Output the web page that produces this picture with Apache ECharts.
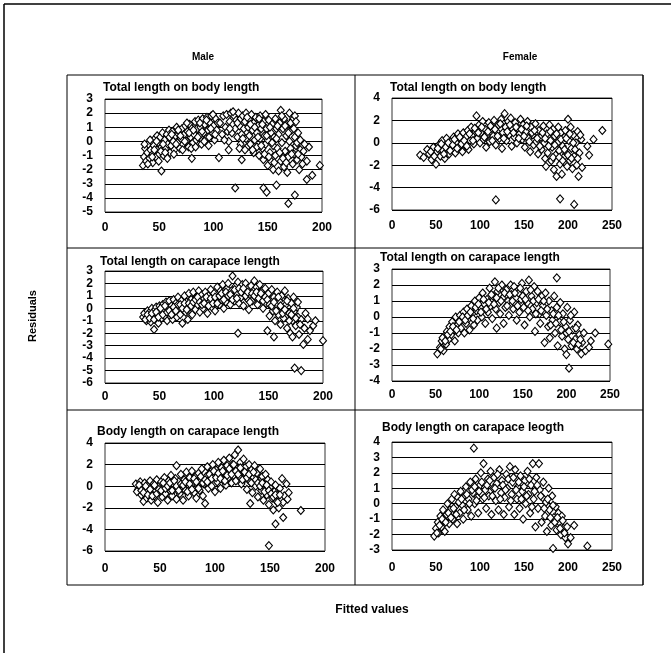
<!DOCTYPE html>
<html>
<head>
<meta charset="utf-8">
<script src="https://cdn.jsdelivr.net/npm/echarts@6/dist/echarts.min.js"></script>
<style>
  html, body { margin: 0; padding: 0; background: #fff; }
  #chart { width: 671px; height: 653px; }
</style>
</head>
<body>
<div id="chart"></div>
<script>
  // residuals vs fitted values, [fitted, residual]
  const maleTotalBody = [
    [35,-1.7],[36,-1.1],[37,-0.5],[38,-1.4],[39,-0.8],[40,-0.2],[41,-1.2],[42,-0.6],[43,0.0],[44,-1.5],[44,-0.9],[45,-0.3],
    [46,0.2],[47,-1.1],[48,-0.6],[48,0.4],[49,-0.1],[50,-0.9],[51,0.3],[52,-0.4],[53,0.6],[54,-1.0],[55,0.1],[56,-0.5],
    [57,0.5],[58,-0.2],[59,0.8],[60,-0.8],[60,0.2],[61,-0.3],[62,0.7],[63,0.0],[64,-0.6],[65,0.4],[66,1.0],[67,-0.1],
    [68,0.5],[69,-0.5],[70,0.2],[71,0.9],[72,-0.2],[73,0.5],[74,1.1],[75,0.0],[76,0.7],[77,-0.4],[78,1.2],[79,0.3],
    [80,0.9],[81,-0.1],[82,0.5],[83,1.4],[84,0.1],[85,0.9],[86,1.5],[87,0.4],[88,1.0],[89,-0.2],[90,1.6],[91,0.6],
    [92,1.2],[93,0.2],[94,1.7],[95,0.8],[96,0.3],[97,1.3],[98,1.8],[99,0.6],[100,1.1],[101,0.1],[102,1.6],[103,0.8],
    [36.5,-0.2],[39.5,-1.6],[41.5,0.1],[43.5,-1.1],[45.5,-0.6],[47.5,0.0],[49.5,-1.4],[51.5,-0.7],[53.5,-0.2],[55.5,-0.8],
    [57.5,-1.2],[59.5,0.3],[61.5,0.5],[63.5,-0.9],[65.5,-0.2],[67.5,0.8],[69.5,0.4],[71.5,-0.6],[73.5,0.0],[75.5,1.3],
    [77.5,0.6],[79.5,-0.5],[81.5,0.8],[83.5,-0.4],[85.5,0.3],[87.5,1.3],[89.5,0.7],[91.5,0.0],[93.5,1.5],[95.5,-0.3],
    [97.5,0.9],[99.5,1.9],[101.5,0.5],[104,1.3],
    [52,-2.1],[80,-1.2],[105,-1.15],
    [106,1.3],[108,0.5],[109,1.8],[111,1.0],[112,1.9],[113,0.7],[114,0.0],[114,-0.6],[115,1.4],[116,2.0],[117,0.6],
    [118,1.2],[119,1.8],[120,0.9],[121,1.5],[122,0.3],[123,2.0],[124,1.1],[125,1.6],[125,-0.2],[126,0.5],[126,-1.3],
    [127,1.8],[128,0.9],[129,1.4],[130,0.2],[130,2.0],[131,-0.4],[132,1.0],[133,1.6],[133,0.4],[134,-0.2],[135,1.9],
    [136,0.8],[137,1.3],[137,-0.8],[138,0.1],[139,1.7],[140,0.6],[140,-0.4],[141,1.1],[142,-1.0],[143,1.8],[143,0.2],
    [144,0.9],[145,-0.5],[146,1.4],[146,-1.3],[147,0.4],[148,1.9],[148,-0.2],[149,0.9],[150,-1.7],[150,0.1],[151,1.5],
    [152,-0.8],[153,0.6],[153,-1.4],[154,1.2],[155,-0.3],[155,-2.0],[156,0.3],[157,1.6],[157,-1.0],[158,0.9],[159,-0.5],
    [160,-2.1],[160,0.5],[161,1.3],[162,2.2],[162,-1.4],[163,-0.1],[164,0.9],[165,1.6],[165,-1.8],[166,-0.7],[167,0.4],
    [168,1.2],[168,-2.2],[169,-1.1],[170,2.0],[170,0.0],[171,-0.5],[172,0.8],[173,1.55],[173,-1.6],[174,-0.9],[175,1.8],
    [175,0.3],[176,-0.3],[177,-1.3],[178,0.6],[179,-2.0],[180,-0.6],[181,-1.1],[183,-0.7],[186,-1.4],[188,-0.4],
    [110,0.1],[115,0.9],[118,2.1],[122,1.3],[124,-0.5],[127,0.2],[129,-0.6],[131,1.7],[134,1.2],[136,-0.6],[138,1.0],
    [141,0.3],[142,1.6],[144,-0.3],[145,1.2],[147,-0.9],[149,0.4],[151,-1.1],[152,1.0],[154,-0.1],[156,-1.5],[158,0.2],
    [159,1.1],[161,-0.8],[163,1.8],[164,-1.2],[166,1.1],[167,-1.5],[169,0.6],[171,1.3],[172,-0.9],[174,0.9],[176,1.4],
    [177,-0.1],[178,-0.9],[180,0.1],[182,-1.6],[184,-0.2],
    [120,-3.3],[146,-3.3],[149,-3.6],[158,-3.1],[169,-4.4],[175,-3.8],[186,-2.7],[191,-2.4],[198,-1.7]
  ];
  const femaleTotalBody = [
    [32,-1.1],[36,-1.3],[40,-0.6],[42,-1.0],[45,-1.5],[47,-0.4],[50,-1.9],[50,-0.9],[53,-0.2],[55,-1.2],[57,0.2],[58,-0.7],
    [60,-1.4],[62,0.4],[63,-0.3],[65,-1.0],[67,0.1],[68,-0.6],[70,0.5],[72,-0.9],[73,0.0],[75,0.8],[76,-0.4],[78,0.3],
    [80,-0.8],[81,0.9],[83,-0.2],[84,0.5],[86,1.1],[87,-0.6],[89,0.2],[90,1.4],[91,0.7],[93,-0.1],[95,1.0],[96,2.4],
    [97,0.4],[99,1.6],[100,0.0],[101,0.9],[103,1.9],[104,0.3],[106,1.2],[107,-0.4],[108,0.7],[110,1.8],[111,0.1],[113,1.3],
    [115,0.6],[116,2.0],[118,-0.2],[119,1.0],[121,1.6],[122,0.4],[124,2.1],[125,-0.5],[126,0.9],[128,2.6],[129,1.4],[130,0.2],
    [132,1.9],[133,0.7],[135,2.2],[136,-0.3],[137,1.2],[139,0.5],[140,1.8],[142,0.0],[143,1.3],[145,0.8],[146,2.1],[148,0.3],
    [149,1.6],[151,-0.4],[152,1.0],[154,1.9],[155,0.4],[157,-0.8],[158,1.4],[160,0.7],[161,-0.2],[163,1.7],[164,0.1],[166,-1.0],
    [167,1.1],[169,0.5],[170,-0.6],[172,1.5],[173,0.0],[174,-1.4],[175,-2.1],[176,0.8],[177,-0.9],[179,1.6],[180,0.2],[181,-1.6],
    [182,-0.4],[183,1.2],[184,-2.4],[185,0.6],[186,-1.1],[187,-3.0],[188,0.0],[189,1.4],[190,-0.7],[191,-1.9],[192,0.9],[193,-2.8],
    [194,-0.3],[195,-1.3],[196,0.5],[197,1.1],[198,-0.9],[199,-2.1],[200,2.1],[201,0.2],[202,-1.6],[203,1.4],[204,-0.5],[205,-2.3],
    [206,0.7],[207,-1.2],[209,0.0],[210,-2.0],[211,1.0],[212,-3.0],[213,-0.9],[215,0.3],[216,-2.2],
    [44,-0.8],[48,-1.2],[52,-0.5],[56,-0.1],[59,-1.0],[61,-0.4],[64,0.0],[66,-0.7],[69,-0.2],[71,0.3],[74,-0.5],[77,0.5],
    [79,-0.1],[82,0.2],[85,-0.3],[88,0.8],[92,0.2],[94,1.3],[98,0.9],[102,1.4],[105,0.5],[109,1.0],[112,1.5],[114,0.2],
    [117,1.2],[120,0.6],[123,1.7],[127,0.4],[131,1.0],[134,1.6],[138,0.9],[141,1.4],[144,0.4],[147,1.2],[150,0.6],[153,1.5],
    [156,0.1],[159,0.9],[162,1.1],[165,0.4],[168,-0.3],[171,0.9],[174,0.4],[178,-0.3],[180,1.0],[183,-1.3],[185,-0.2],
    [187,0.8],[190,-1.3],[192,0.3],[194,-1.6],[196,-0.6],[198,0.4],[200,-1.1],[202,0.8],[204,-1.4],[206,0.0],[208,-0.6],
    [211,-1.4],[214,0.7],
    [118,-5.1],[191,-5.0],[207,-5.5],[222,-0.3],[224,-1.1],[229,0.3],[239,1.1]
  ];
  const maleTotalCarapace = [
    [35,-0.7],[36,-0.4],[38,-1.0],[39,-0.2],[40,-0.7],[41,-0.3],[42,-1.1],[43,0.0],[44,-0.6],[45,-1.7],[45,-0.2],[46,-0.9],
    [47,0.1],[48,-0.5],[49,-1.2],[50,0.2],[51,-0.3],[52,-0.8],[53,0.3],[54,-0.1],[55,-0.6],[56,0.5],[57,-1.0],[58,0.0],
    [59,0.6],[60,-0.4],[61,0.2],[62,-0.9],[63,0.7],[64,-0.2],[65,0.4],[66,-0.7],[67,0.9],[68,0.0],[69,-0.5],[70,0.6],
    [71,-1.2],[72,0.2],[73,1.0],[74,-0.3],[75,0.5],[76,-0.9],[77,1.2],[78,0.1],[79,0.7],[80,-0.5],[81,1.3],[82,0.4],
    [83,-0.1],[84,0.9],[85,0.3],[86,1.4],[87,-0.3],[88,0.6],[89,1.1],[90,0.0],[91,0.8],[92,1.3],[93,0.3],[94,-0.4],
    [95,1.0],[96,0.5],[97,1.5],[98,0.1],[99,0.8],[100,1.2],[101,-0.2],[102,0.6],[103,1.7],[104,0.9],[105,0.3],[106,1.4],
    [107,0.7],[108,1.9],[109,0.0],[110,1.1],[111,0.5],[112,1.6],[113,2.0],[114,0.9],[115,0.3],[116,1.4],[117,2.6],[118,1.0],
    [119,0.6],[120,1.8],[121,1.2],[122,2.1],[123,0.4],[124,1.5],[125,0.9],[126,1.9],[127,0.2],[128,1.3],[129,2.0],[130,0.8],
    [131,1.6],[132,-0.1],[133,1.1],[134,1.8],[135,0.6],[136,1.4],[137,2.2],[138,0.9],[139,1.7],[140,0.3],[141,1.2],[142,1.9],
    [143,0.7],[144,1.4],[145,0.0],[146,1.0],[147,1.6],[148,0.4],[149,-1.8],[150,1.2],[151,-0.6],[152,0.7],[153,1.5],[154,-0.2],
    [155,-2.3],[155,0.9],[156,-1.0],[157,0.3],[158,1.3],[159,-0.5],[160,0.6],[161,-1.3],[162,1.0],[163,0.0],[164,-0.8],[165,1.4],
    [166,0.3],[167,-1.6],[168,0.8],[169,-0.4],[170,-2.0],[171,0.4],[172,-2.3],[172,-1.0],[173,0.9],[174,-0.2],[175,-1.4],[176,0.1],
    [177,-0.7],[178,-2.1],[180,-0.9],[182,-2.9],[183,-1.6],[184,-0.4],[186,-2.5],[186,-0.85],[188,-1.8],[191,-1.4],[193,-1.0],
    [37,-0.9],[39,-0.5],[41,-0.8],[43,-0.4],[45,-0.9],[47,-0.3],[49,-0.7],[51,0.0],[53,-0.5],[55,0.2],[57,-0.3],[59,-0.2],
    [61,-0.5],[63,0.1],[65,-0.2],[67,0.3],[69,0.3],[71,0.0],[73,0.4],[75,-0.1],[77,0.4],[79,0.2],[81,0.5],[83,0.7],
    [85,0.9],[87,0.5],[89,0.3],[91,0.4],[93,0.9],[95,0.2],[97,0.8],[99,0.4],[101,0.9],[103,0.4],[105,1.0],[107,1.2],
    [109,0.7],[111,1.3],[113,1.0],[115,1.1],[117,0.7],[119,1.5],[121,0.8],[123,1.6],[125,1.3],[127,1.6],[129,1.0],[131,1.3],
    [133,0.5],[135,1.2],[137,1.0],[139,1.3],[141,0.8],[143,1.2],[145,0.6],[147,0.9],[149,0.7],[151,0.3],[153,0.2],[155,0.5],
    [157,-0.2],[159,0.9],[161,0.2],[163,-0.4],[165,-0.1],[167,0.6],[169,-1.0],[171,-0.5],[173,0.0],[175,-0.8],[177,0.5],[179,-1.3],
    [122,-2.0],[174,-4.8],[180,-5.0],[200,-2.6]
  ];
  const femaleTotalCarapace = [
    [52,-2.3],[55,-1.9],[57,-1.5],[59,-2.1],[60,-1.2],[62,-1.7],[63,-0.9],[65,-1.4],[66,-0.6],[68,-1.1],[69,-0.3],[71,-0.8],
    [72,-1.5],[73,0.0],[75,-0.5],[76,-1.0],[78,0.1],[79,-0.7],[80,-0.2],[82,0.3],[83,-1.0],[85,-0.4],[86,0.5],[88,-0.1],
    [89,-0.8],[91,0.7],[92,0.2],[94,-0.5],[95,1.0],[97,0.4],[98,-0.2],[100,1.2],[101,0.6],[103,0.0],[104,1.5],[106,0.8],
    [107,-0.4],[109,1.1],[110,0.3],[112,1.8],[113,0.7],[115,-0.1],[116,1.3],[118,2.2],[119,0.5],[120,-0.7],[121,1.6],[123,0.9],
    [124,0.2],[126,2.0],[127,1.2],[128,-0.4],[130,0.6],[131,1.7],[133,1.0],[134,0.1],[136,2.0],[137,1.4],[139,0.5],[140,1.9],
    [142,0.8],[143,-0.2],[145,1.5],[146,0.3],[148,1.1],[149,2.1],[151,0.6],[152,-0.5],[154,1.6],[155,0.9],[157,2.3],[158,0.0],
    [160,1.3],[161,0.5],[163,1.9],[164,-0.9],[166,0.9],[167,1.6],[169,0.2],[170,-0.4],[172,1.3],[173,0.7],[175,-1.6],[176,1.5],
    [177,0.1],[179,-0.6],[180,1.0],[181,-1.3],[183,0.4],[184,-0.2],[186,1.3],[187,-1.0],[189,2.45],[189,0.6],[190,-1.8],[192,-0.3],
    [193,0.9],[195,-1.2],[196,0.2],[198,-2.0],[199,-0.6],[200,-2.35],[201,0.6],[202,-1.4],[203,-3.2],[204,-0.2],[206,-1.8],[207,-0.8],
    [209,0.3],[210,-1.4],[212,-2.0],[213,-0.5],[215,-1.1],[217,-2.3],[218,-1.6],[220,-1.0],[222,-2.1],[226,-1.9],[228,-1.5],
    [56,-2.0],[58,-1.3],[61,-1.5],[64,-1.1],[67,-0.9],[70,-0.6],[74,-0.8],[77,-0.3],[81,0.0],[84,-0.2],[87,0.1],[90,0.3],
    [93,-0.1],[96,0.6],[99,0.8],[102,0.3],[105,1.1],[108,0.5],[111,0.9],[114,1.4],[117,0.8],[120,1.2],[122,1.8],[125,1.0],
    [129,1.5],[132,0.7],[135,1.4],[138,1.0],[141,1.5],[144,0.7],[147,1.8],[150,1.3],[153,1.1],[156,0.4],[159,1.7],[162,1.0],
    [165,0.2],[168,1.1],[171,0.4],[174,1.0],[178,0.5],[182,-0.5],[185,0.2],[188,-0.4],[191,0.1],[194,-0.8],[197,-0.3],
    [200,-1.0],[203,-0.9],[205,0.1],[208,-1.6],[211,-0.7],[214,-1.7],[216,-1.4],
    [233,-1.0],[248,-1.7]
  ];
  const maleBodyCarapace = [
    [28,0.2],[30,-0.3],[32,0.4],[33,-0.8],[34,-0.1],[35,-1.4],[36,0.3],[37,-0.5],[38,-1.1],[39,0.0],[40,-0.7],[41,0.5],
    [42,-1.3],[43,-0.2],[44,0.2],[45,-0.9],[46,-0.4],[47,0.6],[48,-1.5],[49,0.0],[50,-0.6],[51,0.4],[52,-1.0],[53,-0.2],
    [54,0.8],[55,-0.7],[56,0.1],[57,-1.3],[58,0.5],[59,-0.4],[60,1.0],[61,-0.9],[62,0.2],[63,-0.3],[64,0.7],[65,1.9],
    [65,-1.2],[66,-0.1],[67,0.4],[68,-0.7],[69,1.1],[70,0.0],[71,-1.3],[72,0.6],[73,-0.4],[74,1.3],[75,0.2],[76,-0.9],
    [77,0.8],[78,-0.2],[79,1.4],[80,0.3],[81,-0.6],[82,0.9],[83,-1.1],[84,0.1],[85,1.2],[86,-0.4],[87,0.5],[88,1.6],
    [89,-0.9],[90,0.2],[91,-1.6],[92,0.9],[93,1.8],[94,-0.2],[95,0.6],[96,1.3],[97,0.0],[98,2.0],[99,0.9],[100,-0.5],
    [101,1.5],[102,0.4],[103,2.2],[104,1.0],[105,-0.2],[106,1.7],[107,0.6],[108,2.4],[109,1.2],[110,0.1],[111,1.9],[112,0.8],
    [113,2.6],[114,1.4],[115,0.3],[116,2.0],[117,1.0],[118,2.9],[119,0.5],[120,1.6],[121,3.35],[122,0.9],[123,2.2],[124,0.2],
    [125,1.4],[126,2.5],[127,0.7],[128,1.8],[129,-0.3],[130,1.1],[131,2.0],[132,-1.6],[132,0.4],[133,1.5],[134,-0.6],[135,0.8],
    [136,1.9],[137,0.0],[138,1.2],[139,-1.0],[140,0.5],[141,1.6],[142,-0.4],[143,0.9],[144,-1.3],[145,0.2],[146,1.1],[147,-0.8],
    [148,0.6],[149,-1.7],[150,-0.1],[151,0.4],[152,-1.1],[153,-2.2],[154,-0.5],[155,0.1],[156,-1.4],[157,-0.8],[158,-2.0],
    [159,-0.2],[160,-1.2],[161,0.7],[162,-1.5],[163,-0.9],[165,0.2],[166,-1.2],[167,-0.6],
    [29,-0.5],[31,0.1],[33,-0.4],[35,-0.6],[37,0.0],[39,-0.8],[41,-0.3],[43,-0.9],[45,0.1],[47,-0.7],[49,-0.3],[51,-0.4],
    [53,0.3],[55,-0.2],[57,0.0],[59,0.3],[61,-0.4],[63,0.5],[65,0.0],[67,-0.4],[69,0.2],[71,0.1],[73,0.4],[75,-0.5],
    [77,0.2],[79,-0.3],[81,0.7],[83,0.4],[85,-0.2],[87,0.9],[89,0.3],[91,0.6],[93,0.4],[95,1.1],[97,0.7],[99,1.4],
    [101,0.8],[103,1.2],[105,0.7],[107,1.4],[109,0.5],[111,1.0],[113,1.6],[115,1.1],[117,2.0],[119,1.4],[121,1.1],[123,1.7],
    [125,0.6],[127,1.3],[129,0.8],[131,1.1],[133,0.3],[135,1.3],[137,0.6],[139,0.3],[141,0.0],[143,0.3],[145,-0.5],[147,0.1],
    [149,-0.4],[151,-0.7],[153,-1.0],[155,-0.8],[157,-1.5],[159,-0.8],
    [178,-2.25],[162,-2.9],[155,-3.5],[149,-5.5]
  ];
  const femaleBodyCarapace = [
    [48,-2.1],[50,-1.6],[52,-1.2],[53,-1.9],[55,-0.8],[56,-1.5],[58,-0.4],[59,-1.1],[60,-1.8],[62,-0.7],[63,0.0],[65,-1.3],
    [66,-0.4],[68,0.3],[69,-1.0],[71,0.6],[72,-0.2],[74,-1.3],[75,0.4],[77,-0.6],[78,0.8],[80,-0.1],[81,-1.0],[83,0.5],
    [84,1.1],[86,-0.4],[87,0.3],[89,1.4],[90,-0.8],[92,0.7],[93,3.6],[94,0.0],[95,1.6],[97,0.4],[98,-0.6],[100,1.2],
    [101,2.0],[103,0.3],[104,2.6],[106,0.9],[107,-0.3],[109,1.6],[110,0.5],[112,2.1],[113,-0.7],[115,1.0],[116,1.7],[118,0.2],
    [119,1.3],[121,-0.4],[122,2.2],[124,0.7],[125,1.5],[127,-0.7],[128,0.4],[130,1.9],[131,1.0],[133,-0.2],[134,2.4],[136,0.6],
    [137,1.4],[139,-0.7],[140,2.2],[142,0.3],[143,1.1],[145,-0.3],[146,1.8],[148,0.8],[149,-1.0],[151,1.5],[152,0.0],[154,2.1],
    [155,0.6],[157,-0.6],[158,1.2],[160,2.6],[161,0.3],[163,-1.5],[164,1.7],[166,-0.3],[167,2.6],[168,0.9],[170,-1.2],[171,0.4],
    [172,1.4],[174,-0.8],[175,0.1],[176,-1.8],[178,1.0],[179,-0.4],[181,-1.4],[182,0.5],[183,-2.9],[184,-0.9],[186,-0.2],
    [187,-1.7],[189,-0.6],[190,-1.2],[192,-2.0],[193,-0.8],[195,-1.6],[197,-2.2],[200,-2.6],[203,-2.2],[207,-1.4],[222,-2.75],
    [51,-1.9],[54,-1.4],[57,-1.0],[61,-1.2],[64,-0.6],[67,-0.9],[70,-0.3],[73,-0.7],[76,0.1],[79,0.3],[82,-0.4],[85,0.6],
    [88,0.0],[91,0.9],[94,1.1],[96,0.2],[99,0.8],[102,1.4],[105,0.4],[108,1.2],[111,1.5],[114,0.5],[117,1.0],[120,1.9],
    [123,0.3],[126,1.2],[129,0.9],[132,1.6],[135,0.2],[138,1.7],[141,0.9],[144,1.4],[147,0.3],[150,1.1],[153,0.5],[156,1.6],
    [159,-0.2],[162,0.8],[165,1.2],[169,0.5],[173,-0.3],[177,0.3],[180,-0.9],[183,-0.1],[185,-1.2],[188,-0.9],[191,-1.6],
    [194,-1.1],[196,-1.9],[199,-1.5]
  ];

  const panelTitles = [
    'Total length on body length', 'Total length on body length',
    'Total length on carapace length', 'Total length on carapace length',
    'Body length on carapace length', 'Body length on carapace leogth'
  ];
  const panelData = [maleTotalBody, femaleTotalBody, maleTotalCarapace, femaleTotalCarapace, maleBodyCarapace, femaleBodyCarapace];
  const xMax = [200, 250, 200, 250, 200, 250];
  const yMin = [-5, -6, -6, -4, -6, -3];
  const yMax = [3, 4, 3, 3, 4, 4];
  const yStep = [1, 2, 1, 1, 2, 1];

  // plot boxes in pixels: left, top, width, height
  const boxes = [
    [105, 99, 217, 113], [392, 98, 220, 112],
    [105, 271, 218, 112], [392, 269, 218, 112],
    [105, 443, 220, 108], [392, 442, 220, 108]
  ];
  const titlePos = [[103, 88], [390, 88], [100, 262], [380, 258], [97, 432], [382, 428]];
  const labelGap = [10, 10, 8, 8, 12, 12];

  const font = 'Liberation Sans';
  const chart = echarts.init(document.getElementById('chart'));

  const grid = [], xAxis = [], yAxis = [], series = [], graphic = [];

  boxes.forEach((b, i) => {
    grid.push({
      left: b[0], top: b[1], width: b[2], height: b[3],
      show: true, borderColor: '#333', borderWidth: 1
    });
    xAxis.push({
      type: 'value', gridIndex: i, min: 0, max: xMax[i], interval: 50,
      axisLine: { show: false }, axisTick: { show: false }, splitLine: { show: false },
      axisLabel: { color: '#000', fontFamily: font, fontWeight: 'bold', fontSize: 12, margin: labelGap[i] }
    });
    yAxis.push({
      type: 'value', gridIndex: i, min: yMin[i], max: yMax[i], interval: yStep[i],
      axisLine: { show: false },
      axisTick: { show: true, length: 3, inside: true, lineStyle: { color: '#000' } },
      splitLine: { show: true, lineStyle: { color: '#000', width: 1 } },
      axisLabel: { color: '#000', fontFamily: font, fontWeight: 'bold', fontSize: 12, margin: 12 }
    });
    series.push({
      type: 'scatter', xAxisIndex: i, yAxisIndex: i,
      data: panelData[i],
      symbol: 'diamond', symbolSize: [7, 8],
      itemStyle: { color: '#fff', borderColor: '#000', borderWidth: 1.1, opacity: 1 },
      silent: true, animation: false
    });
    graphic.push({
      type: 'text', x: titlePos[i][0], y: titlePos[i][1],
      style: { text: panelTitles[i], font: 'bold 12px "' + font + '"', fill: '#000', textVerticalAlign: 'middle' }
    });
  });

  const line = (x1, y1, x2, y2, w) => ({
    type: 'line', shape: { x1, y1, x2, y2 },
    style: { stroke: '#000', lineWidth: w || 1 }, silent: true
  });

  // page edge lines (top and left only) and the box round the six panels
  graphic.push(
    line(4, 4, 671, 4, 1.5), line(4, 4, 4, 653, 1.5),
    line(67, 75, 643, 75), line(67, 585, 643, 585), line(67, 75, 67, 585), line(643, 75, 643, 585, 1.5),
    line(355, 75, 355, 585), line(67, 248, 643, 248), line(67, 410, 643, 410),
    { type: 'text', x: 203, y: 57, style: { text: 'Male', font: 'bold 10px "' + font + '"', fill: '#000', textAlign: 'center', textVerticalAlign: 'middle' } },
    { type: 'text', x: 520, y: 57, style: { text: 'Female', font: 'bold 10px "' + font + '"', fill: '#000', textAlign: 'center', textVerticalAlign: 'middle' } },
    { type: 'text', x: 33, y: 316, rotation: Math.PI / 2, style: { text: 'Residuals', font: 'bold 11px "' + font + '"', fill: '#000', textAlign: 'center', textVerticalAlign: 'middle' } },
    { type: 'text', x: 372, y: 610, style: { text: 'Fitted values', font: 'bold 12px "' + font + '"', fill: '#000', textAlign: 'center', textVerticalAlign: 'middle' } }
  );

  chart.setOption({
    animation: false,
    backgroundColor: '#fff',
    grid, xAxis, yAxis, series, graphic
  });
</script>
</body>
</html>
